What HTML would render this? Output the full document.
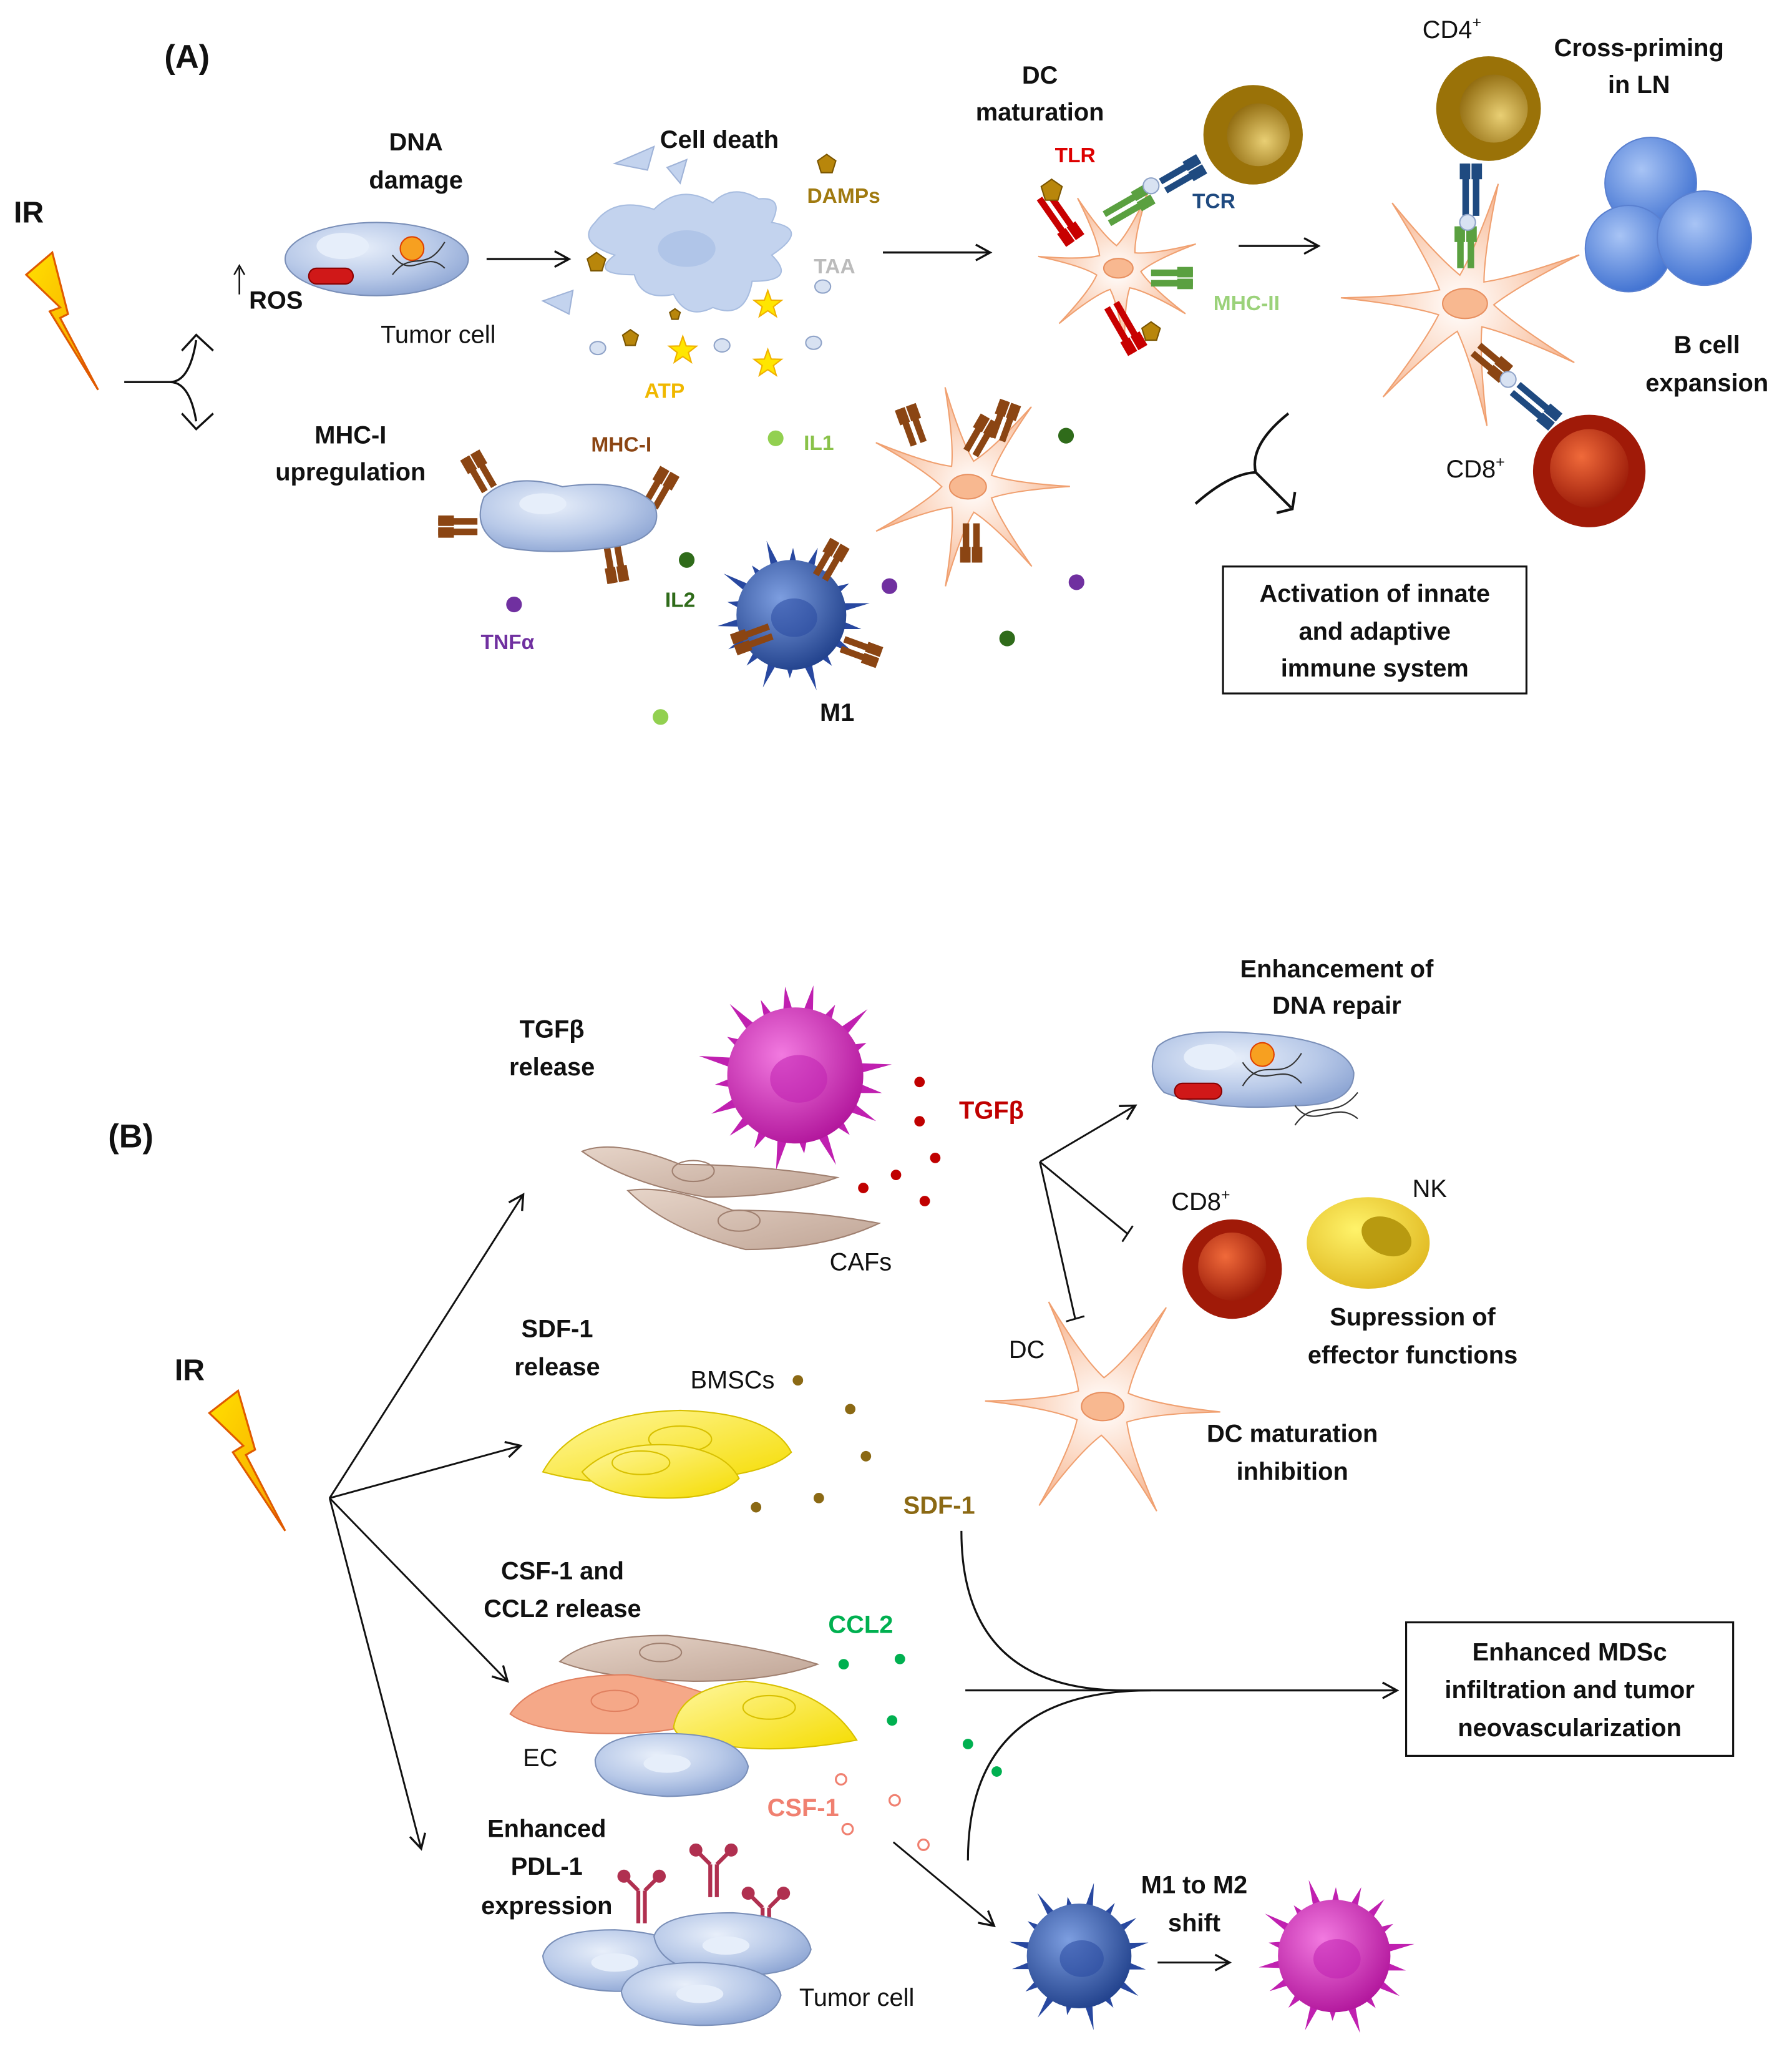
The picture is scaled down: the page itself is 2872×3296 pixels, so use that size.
<!DOCTYPE html>
<html><head><meta charset="utf-8">
<style>
html,body{margin:0;padding:0;background:#fff;}
svg{display:block;}
text{font-family:"Liberation Sans",sans-serif;}
.b{font-weight:bold;font-size:19px;fill:#111;text-anchor:middle;}
.n{font-size:19px;fill:#111;text-anchor:middle;}
.l{font-weight:bold;font-size:16px;text-anchor:middle;}
</style></head><body>
<svg id="s" width="2872" height="3296" viewBox="0 0 1370 1572.2" preserveAspectRatio="none" xmlns="http://www.w3.org/2000/svg">
<defs>
<marker id="ar" markerWidth="14" markerHeight="14" refX="12" refY="7" orient="auto" markerUnits="userSpaceOnUse">
<path d="M1,1 L12,7 L1,13" fill="none" stroke="#111" stroke-width="1.6"/></marker>
<radialGradient id="gPeach" cx="0.5" cy="0.5" r="0.6"><stop offset="0" stop-color="#fff"/><stop offset="0.5" stop-color="#fbd4bd"/><stop offset="1" stop-color="#f2a57a"/></radialGradient>
<radialGradient id="gBlue" cx="0.4" cy="0.35" r="0.7"><stop offset="0" stop-color="#e8effa"/><stop offset="0.6" stop-color="#b8c9e8"/><stop offset="1" stop-color="#8ea6d4"/></radialGradient>
<radialGradient id="gM1" cx="0.4" cy="0.35" r="0.7"><stop offset="0" stop-color="#7d9ee0"/><stop offset="1" stop-color="#1f3f8a"/></radialGradient>
<radialGradient id="gM2" cx="0.4" cy="0.35" r="0.7"><stop offset="0" stop-color="#f27ae0"/><stop offset="1" stop-color="#b0139a"/></radialGradient>
<radialGradient id="gRed" cx="0.4" cy="0.35" r="0.7"><stop offset="0" stop-color="#f06a3a"/><stop offset="1" stop-color="#9a1a08"/></radialGradient>
<radialGradient id="gGold" cx="0.6" cy="0.6" r="0.7"><stop offset="0" stop-color="#e9cf74"/><stop offset="1" stop-color="#8a6408"/></radialGradient>
<radialGradient id="gB" cx="0.4" cy="0.35" r="0.7"><stop offset="0" stop-color="#a8c4f5"/><stop offset="1" stop-color="#3d6fd0"/></radialGradient>
<radialGradient id="gY" cx="0.4" cy="0.35" r="0.7"><stop offset="0" stop-color="#fff36a"/><stop offset="1" stop-color="#e0b820"/></radialGradient>
<linearGradient id="gYc" x1="0" y1="0" x2="1" y2="1"><stop offset="0" stop-color="#fff7a0"/><stop offset="1" stop-color="#f5dc00"/></linearGradient>
<linearGradient id="gTan" x1="0" y1="0" x2="1" y2="1"><stop offset="0" stop-color="#e6d4c8"/><stop offset="1" stop-color="#c0a596"/></linearGradient>
<linearGradient id="gBolt" x1="0" y1="0" x2="1" y2="1"><stop offset="0" stop-color="#ffe000"/><stop offset="1" stop-color="#f7a000"/></linearGradient>
</defs>
<g id="g"></g>

<!-- ===== PART A ===== -->
<text x="143" y="52" class="b" style="font-size:25px">(A)</text>
<text x="22" y="170" class="b" style="font-size:23px">IR</text>
<polygon points="20,210 40,193 52,240 46,243 75,298 38,238 46,235" fill="url(#gBolt)" stroke="#e05a00" stroke-width="1.5"/>
<path d="M95,292 H130 Q145,292 150,260" fill="none" stroke="#111" stroke-width="1.6"/>
<path d="M130,292 Q145,292 150,322" fill="none" stroke="#111" stroke-width="1.6"/>
<path d="M139,268 L150,256 L163,268 M139,316 L150,328 L163,316" fill="none" stroke="#111" stroke-width="1.6"/>

<text x="318" y="115" class="b">DNA</text><text x="318" y="144" class="b">damage</text>
<ellipse cx="288" cy="198" rx="70" ry="28" fill="url(#gBlue)" stroke="#7a8fb8" stroke-width="1"/>
<ellipse cx="262" cy="188" rx="20" ry="10" fill="#e6eefa"/>
<rect x="236" y="205" width="34" height="12" rx="6" fill="#d01818" stroke="#800" />
<circle cx="315" cy="190" r="9" fill="#f7a020" stroke="#e04000"/>
<path d="M300,210 C315,190 325,210 340,185 M300,195 C315,215 325,190 340,205" stroke="#333" fill="none" stroke-width="1"/>
<path d="M183,225 V205 M179,210 L183,203 L187,210" stroke="#111" fill="none" stroke-width="1.2"/>
<text x="211" y="236" class="b">ROS</text>
<text x="335" y="262" class="n">Tumor cell</text>
<line x1="372" y1="198" x2="435" y2="198" stroke="#111" stroke-width="1.6" marker-end="url(#ar)"/>

<text x="550" y="113" class="b">Cell death</text>
<path d="M455,170 Q470,150 500,160 Q520,140 545,155 Q560,140 580,152 Q600,150 590,170 Q620,175 590,195 Q610,215 575,215 Q570,245 545,235 Q525,245 515,225 Q490,230 485,210 Q450,210 470,195 Q440,185 455,170Z" fill="#c3d3ee" stroke="#a8bde0"/>
<ellipse cx="525" cy="190" rx="22" ry="14" fill="#b0c5e8"/>
<path d="M470,125 L500,112 L495,130Z M510,128 L525,122 L520,140Z M415,230 L438,222 L435,240Z" fill="#c3d3ee" stroke="#9fb3d8"/>
<text x="645" y="155" class="l" style="fill:#a07a10">DAMPs</text>
<text x="638" y="209" class="l" style="fill:#bbb">TAA</text>
<text x="508" y="304" class="l" style="fill:#f0b800">ATP</text>
<line x1="675" y1="193" x2="757" y2="193" stroke="#111" stroke-width="1.6" marker-end="url(#ar)"/>

<text x="795" y="64" class="b">DC</text><text x="795" y="92" class="b">maturation</text>
<text x="822" y="124" class="l" style="fill:#d00">TLR</text>
<text x="928" y="159" class="l" style="fill:#1f4a80">TCR</text>
<text x="953" y="237" class="l" style="fill:#9bd27a">MHC-II</text>
<circle cx="958" cy="103" r="38" fill="#9a7208"/>
<circle cx="962" cy="103" r="24" fill="url(#gGold)"/>
<line x1="947" y1="188" x2="1008" y2="188" stroke="#111" stroke-width="1.6" marker-end="url(#ar)"/>

<text x="1110" y="29" class="n">CD4<tspan font-size="12" dy="-8">+</tspan></text>
<circle cx="1138" cy="83" r="40" fill="#9a7208"/>
<circle cx="1142" cy="83" r="26" fill="url(#gGold)"/>
<text x="1253" y="43" class="b">Cross-priming</text><text x="1253" y="71" class="b">in LN</text>
<circle cx="1262" cy="140" r="35" fill="url(#gB)" stroke="#5a80d0"/>
<circle cx="1245" cy="190" r="33" fill="url(#gB)" stroke="#5a80d0"/>
<circle cx="1303" cy="182" r="36" fill="url(#gB)" stroke="#5a80d0"/>
<text x="1305" y="270" class="b">B cell</text><text x="1305" y="299" class="b">expansion</text>
<text x="1128" y="365" class="n">CD8<tspan font-size="12" dy="-8">+</tspan></text>
<circle cx="1215" cy="360" r="43" fill="#a01a08"/>
<circle cx="1215" cy="358" r="30" fill="url(#gRed)"/>
<path d="M914,385 Q940,362 960,361" fill="none" stroke="#111" stroke-width="2"/>
<path d="M985,316 Q955,340 960,361" fill="none" stroke="#111" stroke-width="2"/>
<path d="M960,361 L987,388" fill="none" stroke="#111" stroke-width="2"/>
<path d="M976,392 L988,389 L990,376" fill="none" stroke="#111" stroke-width="2"/>
<rect x="935" y="433" width="232" height="97" fill="#fff" stroke="#111" stroke-width="1.5"/>
<text x="1051" y="460" class="b">Activation of innate</text>
<text x="1051" y="489" class="b">and adaptive</text>
<text x="1051" y="517" class="b">immune system</text>

<text x="268" y="339" class="b">MHC-I</text><text x="268" y="367" class="b">upregulation</text>
<path d="M370,380 Q390,360 430,372 Q480,365 500,385 Q510,410 470,418 Q420,425 385,418 Q360,405 370,380Z" fill="url(#gBlue)" stroke="#7a8fb8"/>
<ellipse cx="415" cy="385" rx="18" ry="8" fill="#e6eefa"/>
<text x="475" y="345" class="l" style="fill:#8b4513">MHC-I</text>
<text x="626" y="344" class="l" style="fill:#8ac24a">IL1</text>
<text x="520" y="464" class="l" style="fill:#2f6b1a">IL2</text>
<text x="388" y="496" class="l" style="fill:#7030a0">TNFα</text>
<text x="640" y="551" class="b">M1</text>

<!-- ===== PART B ===== -->
<text x="100" y="877" class="b" style="font-size:25px">(B)</text>
<text x="145" y="1055" class="b" style="font-size:23px">IR</text>
<polygon points="160,1080 182,1063 195,1108 188,1112 218,1170 178,1110 186,1105" fill="url(#gBolt)" stroke="#e05a00" stroke-width="1.5"/>
<g stroke="#111" stroke-width="1.4" marker-end="url(#ar)">
<line x1="252" y1="1145" x2="400" y2="913"/>
<line x1="252" y1="1145" x2="398" y2="1105"/>
<line x1="252" y1="1145" x2="388" y2="1285"/>
<line x1="252" y1="1145" x2="322" y2="1413"/>
</g>
<text x="422" y="793" class="b">TGFβ</text><text x="422" y="822" class="b">release</text>
<text x="758" y="855" class="l" style="fill:#c00000;font-size:19px">TGFβ</text>
<path d="M445,880 Q470,870 520,890 Q580,890 640,900 Q600,915 540,915 Q480,905 445,880Z" fill="url(#gTan)" stroke="#a08070"/>
<ellipse cx="530" cy="895" rx="16" ry="8" fill="none" stroke="#a08070"/>
<path d="M480,910 Q510,905 560,925 Q620,925 672,935 Q630,955 570,955 Q510,940 480,910Z" fill="url(#gTan)" stroke="#a08070"/>
<ellipse cx="565" cy="933" rx="16" ry="8" fill="none" stroke="#a08070"/>
<text x="658" y="971" class="n">CAFs</text>
<path d="M795,888 L868,845" stroke="#111" stroke-width="1.4" marker-end="url(#ar)"/>
<path d="M795,888 L862,943 M858,949 L866,937" stroke="#111" stroke-width="1.4" fill="none"/>
<path d="M795,888 L822,1008 M815,1010 L829,1006" stroke="#111" stroke-width="1.4" fill="none"/>
<text x="1022" y="747" class="b">Enhancement of</text><text x="1022" y="775" class="b">DNA repair</text>
<path d="M885,800 Q900,785 960,790 Q1030,795 1035,820 Q1035,845 990,845 Q930,850 890,835 Q875,820 885,800Z" fill="url(#gBlue)" stroke="#7a8fb8"/>
<ellipse cx="925" cy="808" rx="20" ry="10" fill="#e6eefa"/>
<rect x="898" y="828" width="36" height="12" rx="6" fill="#d01818" stroke="#800"/>
<circle cx="965" cy="806" r="9" fill="#f7a020" stroke="#e04000"/>
<path d="M950,830 C965,805 980,830 995,805 M950,812 C965,835 980,810 995,828 M990,860 C1005,838 1020,858 1038,835 M990,845 C1005,865 1020,840 1038,855" stroke="#333" fill="none" stroke-width="1"/>
<text x="918" y="925" class="n">CD8<tspan font-size="12" dy="-8">+</tspan></text>
<circle cx="942" cy="970" r="38" fill="#a01a08"/><circle cx="942" cy="968" r="26" fill="url(#gRed)"/>
<text x="1093" y="915" class="n">NK</text>
<ellipse cx="1046" cy="950" rx="47" ry="35" fill="url(#gY)"/>
<ellipse cx="1060" cy="945" rx="20" ry="14" fill="#b89a10" transform="rotate(25 1060 945)"/>
<text x="1080" y="1013" class="b">Supression of</text><text x="1080" y="1042" class="b">effector functions</text>
<text x="785" y="1038" class="n">DC</text>
<text x="988" y="1102" class="b">DC maturation</text><text x="988" y="1131" class="b">inhibition</text>

<text x="426" y="1022" class="b">SDF-1</text><text x="426" y="1051" class="b">release</text>
<text x="560" y="1061" class="n">BMSCs</text>
<path d="M415,1125 Q440,1080 520,1078 Q590,1080 605,1110 Q590,1125 540,1130 Q470,1140 415,1125Z" fill="url(#gYc)" stroke="#d8c000"/>
<ellipse cx="520" cy="1100" rx="24" ry="10" fill="none" stroke="#d8c000"/>
<path d="M445,1125 Q470,1100 520,1105 Q555,1110 565,1130 Q550,1145 510,1145 Q460,1145 445,1125Z" fill="url(#gYc)" stroke="#d8c000"/>
<ellipse cx="490" cy="1118" rx="22" ry="9" fill="none" stroke="#d8c000"/>
<text x="718" y="1157" class="l" style="fill:#8b6914;font-size:19px">SDF-1</text>

<text x="430" y="1207" class="b">CSF-1 and</text><text x="430" y="1236" class="b">CCL2 release</text>
<path d="M428,1270 Q450,1250 510,1250 Q580,1258 625,1272 Q590,1285 530,1285 Q460,1283 428,1270Z" fill="url(#gTan)" stroke="#a08070"/>
<ellipse cx="505" cy="1263" rx="16" ry="7" fill="none" stroke="#a08070"/>
<path d="M390,1310 Q410,1280 480,1280 Q540,1290 560,1305 Q530,1325 470,1325 Q410,1325 390,1310Z" fill="#f5a888" stroke="#e08060"/>
<ellipse cx="470" cy="1300" rx="18" ry="8" fill="none" stroke="#e08060"/>
<path d="M515,1320 Q520,1290 570,1285 Q630,1290 655,1330 Q600,1340 560,1335 Q520,1335 515,1320Z" fill="url(#gYc)" stroke="#d8c000"/>
<ellipse cx="588" cy="1305" rx="20" ry="9" fill="none" stroke="#d8c000"/>
<path d="M455,1345 Q460,1325 510,1325 Q565,1325 572,1350 Q570,1372 510,1373 Q455,1370 455,1345Z" fill="url(#gBlue)" stroke="#7a8fb8"/>
<ellipse cx="510" cy="1348" rx="18" ry="7" fill="#e6eefa"/>
<text x="413" y="1350" class="n">EC</text>
<text x="658" y="1248" class="l" style="fill:#00b050;font-size:19px">CCL2</text>
<text x="614" y="1388" class="l" style="fill:#f08070;font-size:19px">CSF-1</text>
<path d="M735,1170 Q735,1292 860,1292 L1068,1292" fill="none" stroke="#111" stroke-width="1.5" marker-end="url(#ar)"/>
<path d="M738,1292 L1060,1292" stroke="#111" stroke-width="1.5"/>
<path d="M740,1422 Q740,1292 880,1292" fill="none" stroke="#111" stroke-width="1.5"/>
<rect x="1075" y="1240" width="250" height="102" fill="#fff" stroke="#111" stroke-width="1.5"/>
<text x="1200" y="1269" class="b">Enhanced MDSc</text>
<text x="1200" y="1298" class="b">infiltration and tumor</text>
<text x="1200" y="1327" class="b">neovascularization</text>

<text x="418" y="1404" class="b">Enhanced</text><text x="418" y="1433" class="b">PDL-1</text><text x="418" y="1463" class="b">expression</text>
<path d="M415,1495 Q420,1475 470,1475 Q525,1478 530,1500 Q525,1522 470,1522 Q418,1520 415,1495Z" fill="url(#gBlue)" stroke="#7a8fb8"/>
<ellipse cx="470" cy="1500" rx="18" ry="7" fill="#e6eefa"/>
<path d="M500,1480 Q505,1462 560,1462 Q615,1465 620,1490 Q615,1510 560,1510 Q505,1508 500,1480Z" fill="url(#gBlue)" stroke="#7a8fb8"/>
<ellipse cx="555" cy="1487" rx="18" ry="7" fill="#e6eefa"/>
<path d="M475,1522 Q480,1500 535,1500 Q592,1502 597,1525 Q592,1548 535,1548 Q478,1546 475,1522Z" fill="url(#gBlue)" stroke="#7a8fb8"/>
<ellipse cx="535" cy="1524" rx="18" ry="7" fill="#e6eefa"/>
<text x="655" y="1533" class="n">Tumor cell</text>
<line x1="683" y1="1408" x2="760" y2="1472" stroke="#111" stroke-width="1.4" marker-end="url(#ar)"/>
<text x="913" y="1447" class="b">M1 to M2</text><text x="913" y="1476" class="b">shift</text>
<line x1="885" y1="1500" x2="940" y2="1500" stroke="#111" stroke-width="1.4" marker-end="url(#ar)"/>
</svg>
<script>
var NS="http://www.w3.org/2000/svg",G=document.getElementById('g');
function el(t,a,p){var e=document.createElementNS(NS,t);for(var k in a)e.setAttribute(k,a[k]);(p||G).appendChild(e);return e;}
function star(cx,cy,R,n,rot,ri){var d="",r0=ri||R*0.28;for(var i=0;i<n;i++){var a=rot+i*2*Math.PI/n,a1=a-Math.PI/n,a2=a+Math.PI/n;
var x0=cx+r0*Math.cos(a1),y0=cy+r0*Math.sin(a1),x1=cx+R*Math.cos(a),y1=cy+R*Math.sin(a);
d+=(i?"L":"M")+x0.toFixed(1)+","+y0.toFixed(1)+" Q"+(cx+R*0.45*Math.cos(a-0.08)).toFixed(1)+","+(cy+R*0.45*Math.sin(a-0.08)).toFixed(1)+" "+x1.toFixed(1)+","+y1.toFixed(1)+" Q"+(cx+R*0.45*Math.cos(a+0.08)).toFixed(1)+","+(cy+R*0.45*Math.sin(a+0.08)).toFixed(1)+" "+(cx+r0*Math.cos(a2)).toFixed(1)+","+(cy+r0*Math.sin(a2)).toFixed(1);}
el('path',{d:d+"Z",fill:"url(#gPeach)",stroke:"#f0a070","stroke-width":1});
el('ellipse',{cx:cx,cy:cy,rx:R*0.18,ry:R*0.12,fill:"#f8b890",stroke:"#e89060"});}
function spiky(cx,cy,r,n,fill,col){
for(var i=0;i<n;i++){var a=i*2*Math.PI/n+0.2,w=0.09,rr=r*(1.3+0.15*Math.sin(i*2.7));
el('polygon',{points:[cx+r*0.9*Math.cos(a-w),cy+r*0.9*Math.sin(a-w),cx+rr*Math.cos(a),cy+rr*Math.sin(a),cx+r*0.9*Math.cos(a+w),cy+r*0.9*Math.sin(a+w)].map(function(v){return v.toFixed(1)}).join(","),fill:col});}
el('circle',{cx:cx,cy:cy,r:r,fill:fill});
el('ellipse',{cx:cx+r*0.05,cy:cy+r*0.05,rx:r*0.42,ry:r*0.35,fill:col,opacity:0.55});}
function dot(x,y,r,c,s){el('circle',{cx:x,cy:y,r:r,fill:s?"#fff":c,stroke:c,"stroke-width":s?1.5:0});}
function ystar(x,y){var p=[];for(var i=0;i<10;i++){var a=-Math.PI/2+i*Math.PI/5,r=i%2?4.5:11;p.push((x+r*Math.cos(a)).toFixed(1)+","+(y+r*Math.sin(a)).toFixed(1));}el('polygon',{points:p.join(" "),fill:"#ffe600",stroke:"#f0b000"});}
function pent(x,y,s){el('polygon',{points:[x,y-s,x+s,y-s*0.3,x+s*0.6,y+s,x-s*0.6,y+s,x-s,y-s*0.3].join(","),fill:"#b8860b",stroke:"#7a5500"});}
function rec(x,y,ang,col,len){var g=el('g',{transform:"translate("+x+","+y+") rotate("+ang+")"});
el('rect',{x:0,y:-4,width:len||28,height:5,fill:col},g);el('rect',{x:0,y:4,width:len||28,height:5,fill:col},g);
el('rect',{x:(len||28)-12,y:-6,width:12,height:8,fill:col},g);el('rect',{x:(len||28)-12,y:3,width:12,height:8,fill:col},g);}
star(855,205,62,7,-1.2);star(1120,232,95,7,-1.3,22);star(740,372,78,7,-0.9,20);star(843,1075,90,6,-1.0,22);
spiky(605,470,42,18,"url(#gM1)","#2848a0");spiky(608,822,52,20,"url(#gM2)","#c020b0");
spiky(825,1495,40,16,"url(#gM1)","#2848a0");spiky(1020,1495,43,18,"url(#gM2)","#c020b0");
ystar(587,233);ystar(522,268);ystar(587,278);
pent(632,125,7);pent(456,200,7);pent(482,258,6);pent(516,240,4);
[[457,266],[552,264],[622,262],[629,219]].forEach(function(p){el('ellipse',{cx:p[0],cy:p[1],rx:6,ry:5,fill:"#d8e2f2",stroke:"#8fa3c8"});});
rec(800,148,55,"#c80000",42);rec(852,232,60,"#c80000",40);pent(804,145,8);pent(880,253,7);
rec(845,165,-30,"#5aa040",38);rec(880,210,0,"#5aa040",32);rec(888,140,-30,"#1f4a80",34);
el('circle',{cx:880,cy:142,r:6,fill:"#d8e2f2",stroke:"#8fa3c8"});
rec(1118,205,-90,"#5aa040",32);rec(1122,165,-90,"#1f4a80",40);el('circle',{cx:1122,cy:170,r:6,fill:"#d8e2f2",stroke:"#8fa3c8"});
rec(1130,265,40,"#8b4513",30);rec(1160,295,40,"#1f4a80",40);el('circle',{cx:1153,cy:290,r:6,fill:"#d8e2f2",stroke:"#8fa3c8"});
[[372,375,-120],[365,405,180],[495,385,-60],[470,415,80],[625,440,-60],[590,485,160],[645,490,20],[740,345,-60],[760,335,-70],[745,400,90],[700,340,-110]].forEach(function(r){rec(r[0],r[1],r[2],"#8b4513",30);});
dot(593,335,6,"#92d050");dot(525,428,6,"#2f6b1a");dot(393,462,6,"#7030a0");dot(815,333,6,"#2f6b1a");dot(680,448,6,"#7030a0");dot(823,445,6,"#7030a0");dot(770,488,6,"#2f6b1a");dot(505,548,6,"#92d050");
[[703,827],[703,857],[715,885],[685,898],[660,908],[707,918]].forEach(function(p){dot(p[0],p[1],4,"#c00000");});
[[610,1055],[650,1077],[662,1113],[626,1145],[578,1152]].forEach(function(p){dot(p[0],p[1],4,"#8b6914");});
[[645,1272],[688,1268],[682,1315],[740,1333],[762,1354]].forEach(function(p){dot(p[0],p[1],4,"#00b050");});
[[643,1360],[684,1376],[648,1398],[706,1410]].forEach(function(p){dot(p[0],p[1],4,"#f08070",1);});
[[490,1470],[545,1450],[585,1483]].forEach(function(p){var x=p[0],y=p[1];el('path',{d:"M"+(x-2)+","+y+" V"+(y-25)+" M"+(x+3)+","+y+" V"+(y-25)+" M"+(x-2)+","+(y-25)+" l-12,-12 M"+(x+3)+","+(y-25)+" l12,-12",stroke:"#b03050","stroke-width":3,fill:"none"});
el('circle',{cx:x-13,cy:y-36,r:5,fill:"#b03050"});el('circle',{cx:x+14,cy:y-36,r:5,fill:"#b03050"});});
</script>
</body></html>
